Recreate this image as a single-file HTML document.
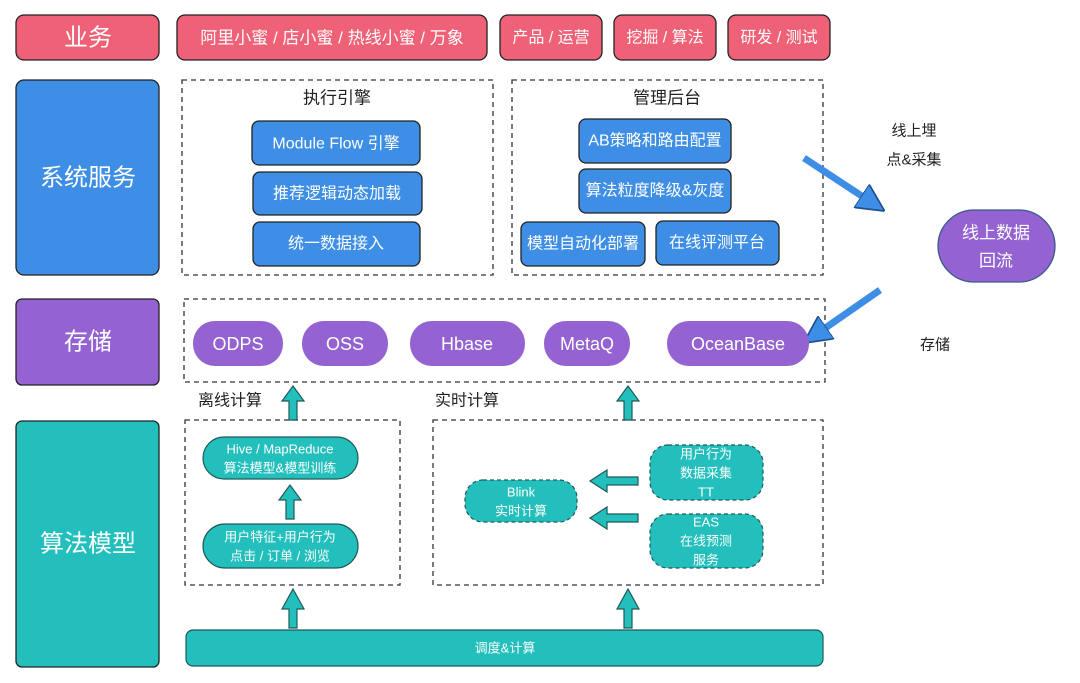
<!DOCTYPE html>
<html><head><meta charset="utf-8"><style>
body{margin:0;background:#fff}
svg text{font-family:"Liberation Sans","Noto Sans CJK SC",sans-serif;text-anchor:middle;dominant-baseline:central}
</style></head><body>
<svg width="1080" height="678" viewBox="0 0 1080 678" xmlns="http://www.w3.org/2000/svg">
<defs>
<marker id="ah" viewBox="0 0 10 10" refX="8" refY="5" markerWidth="4" markerHeight="4" orient="auto"><path d="M0,0L10,5L0,10z" fill="#3d8ee4" stroke="#1d4f8a" stroke-width="0.6"/></marker>
</defs>
<g stroke="#222" stroke-width="1.3">
<rect x="16" y="15" width="143" height="45" rx="8" fill="#ee6176"/>
<rect x="177" y="15" width="310" height="45" rx="8" fill="#ee6176"/>
<rect x="500" y="15" width="102" height="45" rx="8" fill="#ee6176"/>
<rect x="614" y="15" width="102" height="45" rx="8" fill="#ee6176"/>
<rect x="728" y="15" width="102" height="45" rx="8" fill="#ee6176"/>
<rect x="16" y="80" width="143" height="195" rx="8" fill="#3d8ee4"/>
<rect x="16" y="299" width="143" height="86" rx="6" fill="#9463d1"/>
<rect x="16" y="421" width="143" height="246" rx="6" fill="#22bfbd"/>
</g>
<g fill="none" stroke="#333" stroke-width="1.3" stroke-dasharray="5,4">
<rect x="182" y="80" width="311" height="195"/>
<rect x="512" y="80" width="311" height="195"/>
<rect x="184" y="299" width="641" height="83"/>
<rect x="185" y="420" width="215" height="165"/>
<rect x="433" y="420" width="390" height="165"/>
</g>
<g fill="#fff">
<text x="88" y="38" font-size="24">业务</text>
<text x="332" y="38" font-size="17">阿里小蜜 / 店小蜜 / 热线小蜜 / 万象</text>
<text x="551" y="38" font-size="16">产品 / 运营</text>
<text x="665" y="38" font-size="16">挖掘 / 算法</text>
<text x="779" y="38" font-size="16">研发 / 测试</text>
<text x="88" y="178" font-size="24">系统服务</text>
<text x="88" y="342" font-size="24">存储</text>
<text x="88" y="544" font-size="24">算法模型</text>
</g>
<g fill="#222" font-size="17">
<text x="337" y="98">执行引擎</text>
<text x="667" y="98">管理后台</text>
<text x="230" y="401" font-size="16">离线计算</text>
<text x="467" y="401" font-size="16">实时计算</text>
<text x="914" y="131" font-size="15">线上埋</text>
<text x="914" y="160" font-size="15">点&amp;采集</text>
<text x="935" y="345" font-size="15">存储</text>
</g>
<g stroke="#222" stroke-width="1.3" fill="#3d8ee4">
<rect x="252" y="121" width="168" height="44" rx="7"/>
<rect x="253" y="172" width="169" height="43" rx="7"/>
<rect x="253" y="222" width="167" height="44" rx="7"/>
<rect x="579" y="119" width="152" height="44" rx="7"/>
<rect x="579" y="169" width="152" height="44" rx="7"/>
<rect x="521" y="222" width="124" height="44" rx="7"/>
<rect x="656" y="221" width="123" height="44" rx="7"/>
</g>
<g fill="#fff" font-size="16">
<text x="336" y="144">Module Flow 引擎</text>
<text x="337" y="194">推荐逻辑动态加载</text>
<text x="336" y="244">统一数据接入</text>
<text x="655" y="141">AB策略和路由配置</text>
<text x="655" y="191">算法粒度降级&amp;灰度</text>
<text x="583" y="244">模型自动化部署</text>
<text x="717" y="243">在线评测平台</text>
</g>
<rect x="938" y="210" width="117" height="72" rx="36" ry="36" fill="#9463d1" stroke="#3a5a8a" stroke-width="1.3"/>
<text x="996" y="233" fill="#fff" font-size="17">线上数据</text>
<text x="996" y="261" fill="#fff" font-size="17">回流</text>
<g stroke="#1d4f8a" stroke-width="7" fill="none">
<line x1="804" y1="158" x2="880" y2="208" marker-end="url(#ah)" stroke="#3d8ee4"/>
<line x1="880" y1="290" x2="808" y2="340" marker-end="url(#ah)" stroke="#3d8ee4"/>
</g>
<g fill="#9463d1">
<rect x="193" y="321" width="90" height="45" rx="22"/>
<rect x="302" y="321" width="86" height="45" rx="22"/>
<rect x="410" y="321" width="115" height="45" rx="22"/>
<rect x="544" y="321" width="86" height="45" rx="22"/>
<rect x="667" y="321" width="142" height="45" rx="22"/>
</g>
<g fill="#fff" font-size="18">
<text x="238" y="344">ODPS</text>
<text x="345" y="344">OSS</text>
<text x="467" y="344">Hbase</text>
<text x="587" y="344">MetaQ</text>
<text x="738" y="344">OceanBase</text>
</g>
<g fill="#22bfbd" stroke="#1f5a5a" stroke-width="1.2">
<rect x="203" y="437" width="155" height="42" rx="21"/>
<rect x="203" y="524" width="155" height="44" rx="22"/>
<rect x="186" y="630" width="637" height="36" rx="7"/>
</g>
<g fill="#22bfbd" stroke="#1f5a5a" stroke-width="1.2" stroke-dasharray="4,3">
<rect x="465" y="480" width="112" height="42" rx="18"/>
<rect x="650" y="445" width="113" height="55" rx="18"/>
<rect x="650" y="514" width="113" height="54" rx="18"/>
</g>
<g fill="#fff" font-size="13">
<text x="280" y="449">Hive / MapReduce</text>
<text x="280" y="468">算法模型&amp;模型训练</text>
<text x="280" y="537">用户特征+用户行为</text>
<text x="280" y="556">点击 / 订单 / 浏览</text>
<text x="521" y="492">Blink</text>
<text x="521" y="511">实时计算</text>
<text x="706" y="454">用户行为</text>
<text x="706" y="473">数据采集</text>
<text x="706" y="492">TT</text>
<text x="706" y="522">EAS</text>
<text x="706" y="541">在线预测</text>
<text x="706" y="560">服务</text>
<text x="505" y="648">调度&amp;计算</text>
</g>
<g fill="#22bfbd" stroke="#1f5a5a" stroke-width="1.2">
<path d="M289,420V401H282L293,386L304,401H297V420Z"/>
<path d="M624,420V401H617L628,386L639,401H632V420Z"/>
<path d="M286,519V500H279L290,485L301,500H294V519Z"/>
<path d="M289,628V609H282L293,589L304,609H297V628Z"/>
<path d="M624,628V609H617L628,589L639,609H632V628Z"/>
<path d="M638,477H607V470L590,481L607,492V485H638Z"/>
<path d="M638,514H607V507L590,518L607,529V522H638Z"/>
</g>
</svg>
</body></html>
